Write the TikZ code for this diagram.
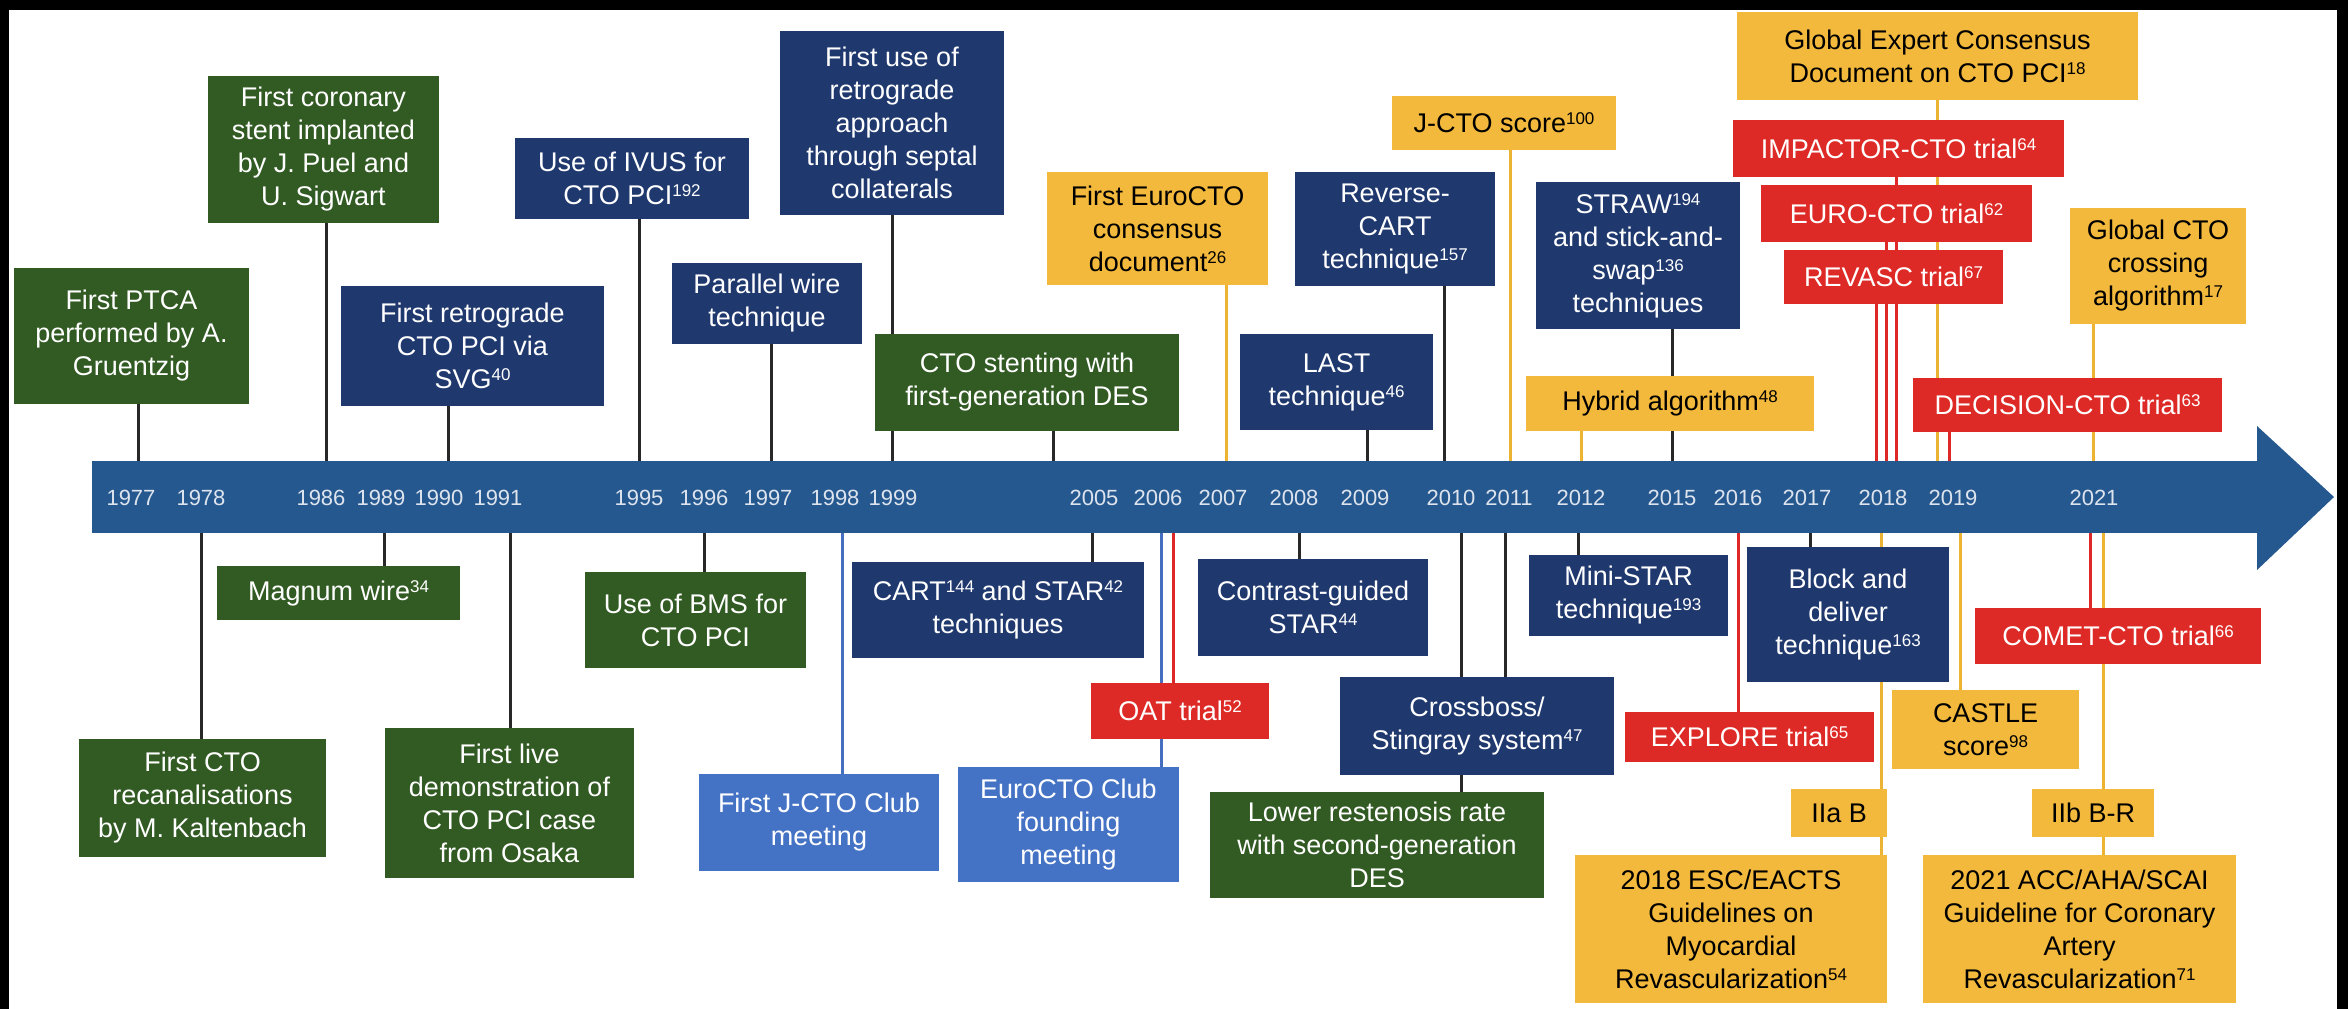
\documentclass[tikz,border=0pt]{standalone}
\usepackage{fontspec}
\setmainfont{Liberation Sans}
\usetikzlibrary{calc}
\definecolor{cgreen}{RGB}{50,90,35}
\definecolor{cnavy}{RGB}{31,56,110}
\definecolor{clight}{RGB}{68,114,196}
\definecolor{cyellow}{RGB}{242,185,60}
\definecolor{cred}{RGB}{222,42,38}
\definecolor{cbar}{RGB}{37,88,143}
\definecolor{cline}{RGB}{40,40,40}
\definecolor{cyline}{RGB}{236,180,50}
\definecolor{crline}{RGB}{222,40,40}
\definecolor{cbline}{RGB}{70,110,190}
\definecolor{cyear}{RGB}{222,228,238}
\pgfdeclarelayer{back}
\pgfdeclarelayer{bg}
\pgfsetlayers{back,bg,main}
\newcommand\sups[1]{\raisebox{0.3em}{\fontsize{17}{17}\selectfont #1}}
\newcommand\bx[7]{\node[#1, minimum width={#5-#3}, minimum height={#6-#4}] (#2) at ({(#3+#5)/2},{(#4+#6)/2}) {#7};}
\newcommand\connup[3]{\coordinate (k#2) at (#3,0); \draw[#1] (#2.south -| k#2) -- (bar.north -| k#2);}
\newcommand\conndn[3]{\coordinate (k#2) at (#3,0); \draw[#1] (bar.south -| k#2) -- (#2.north -| k#2);}
\begin{document}
\begin{tikzpicture}[x=1pt,y=-1pt,
  box/.style={rectangle, inner sep=0pt, outer sep=0pt, align=center, font=\fontsize{27}{33}\selectfont},
  gbox/.style={box, fill=cgreen, text=white},
  nbox/.style={box, fill=cnavy, text=white},
  lbox/.style={box, fill=clight, text=white},
  ybox/.style={box, fill=cyellow, text=black},
  rbox/.style={box, fill=cred, text=white},
  conn/.style={line width=3pt, draw=cline},
  yconn/.style={line width=3pt, draw=cyline},
  rconn/.style={line width=3pt, draw=crline},
  bconn/.style={line width=3pt, draw=cbline},
  yr/.style={font=\fontsize{22}{22}\selectfont, text=cyear, inner sep=0pt}
]
\useasboundingbox (0,0) rectangle (2348,1009);
\begin{pgfonlayer}{back}
\fill[white] (0,0) rectangle (2348,1009);
\fill[black] (0,0) rectangle (2348,10);
\fill[black] (0,0) rectangle (9,1009);
\fill[black] (2337,0) rectangle (2348,1009);
\end{pgfonlayer}

% timeline bar
\node[fill=cbar, minimum width=2166, minimum height=72, inner sep=0pt, outer sep=0pt] (bar) at (1175,497) {};
\fill[cbar] (2257,426) -- (2334,497) -- (2257,570) -- cycle;

% years
\foreach \yy/\xx in {1977/131,1978/201,1986/321,1989/381,1990/439,1991/498,1995/639,1996/704,1997/768,1998/835,1999/893,2005/1094,2006/1158,2007/1223,2008/1294,2009/1365,2010/1451,2011/1509,2012/1581,2015/1672,2016/1738,2017/1807,2018/1883,2019/1953,2021/2094}
  \node[yr] (y\yy) at (\xx,498) {\yy};

% top boxes
\bx{gbox}{ptca}{14}{268}{249}{404}{First PTCA\\performed by A.\\Gruentzig}
\bx{gbox}{stent}{208}{76}{439}{223}{First coronary\\stent implanted\\by J. Puel and\\U. Sigwart}
\bx{nbox}{svg}{341}{286}{604}{406}{First retrograde\\CTO PCI via\\SVG\sups{40}}
\bx{nbox}{ivus}{515}{138}{749}{219}{Use of IVUS for\\CTO PCI\sups{192}}
\bx{nbox}{parallel}{672}{263}{862}{344}{Parallel wire\\technique}
\bx{nbox}{firstretro}{780}{31}{1004}{215}{First use of\\retrograde\\approach\\through septal\\collaterals}
\bx{gbox}{desone}{875}{334}{1179}{431}{CTO stenting with\\first-generation DES}
\bx{ybox}{eurocons}{1047}{172}{1268}{285}{First EuroCTO\\consensus\\document\sups{26}}
\bx{nbox}{rcart}{1295}{172}{1495}{286}{Reverse-\\CART\\technique\sups{157}}
\bx{nbox}{last}{1240}{334}{1433}{430}{LAST\\technique\sups{46}}
\bx{ybox}{jcto}{1392}{96}{1616}{150}{J-CTO score\sups{100}}
\bx{nbox}{straw}{1536}{182}{1740}{329}{STRAW\sups{194}\\and stick-and-\\swap\sups{136}\\techniques}
\bx{ybox}{hybrid}{1526}{376}{1814}{431}{Hybrid algorithm\sups{48}}
\bx{ybox}{globexp}{1737}{12}{2138}{100}{Global Expert Consensus\\Document on CTO PCI\sups{18}}
\bx{rbox}{impactor}{1733}{120}{2064}{177}{IMPACTOR-CTO trial\sups{64}}
\bx{rbox}{eurocto}{1761}{185}{2032}{242}{EURO-CTO trial\sups{62}}
\bx{rbox}{revasc}{1784}{250}{2003}{304}{REVASC trial\sups{67}}
\bx{ybox}{globcto}{2070}{208}{2246}{324}{Global CTO\\crossing\\algorithm\sups{17}}
\bx{rbox}{decision}{1913}{378}{2222}{432}{DECISION-CTO trial\sups{63}}

% bottom boxes
\bx{gbox}{firstcto}{79}{739}{326}{857}{First CTO\\recanalisations\\by M. Kaltenbach}
\bx{gbox}{magnum}{217}{566}{460}{620}{Magnum wire\sups{34}}
\bx{gbox}{live}{385}{728}{634}{878}{First live\\demonstration of\\CTO PCI case\\from Osaka}
\bx{gbox}{bms}{585}{572}{806}{668}{Use of BMS for\\CTO PCI}
\bx{lbox}{jclub}{699}{774}{939}{871}{First J-CTO Club\\meeting}
\bx{nbox}{cart}{852}{562}{1144}{658}{CART\sups{144} and STAR\sups{42}\\techniques}
\bx{rbox}{oat}{1091}{683}{1269}{739}{OAT trial\sups{52}}
\bx{lbox}{euroclub}{958}{767}{1179}{882}{EuroCTO Club\\founding\\meeting}
\bx{nbox}{contrast}{1198}{559}{1428}{656}{Contrast-guided\\STAR\sups{44}}
\bx{nbox}{crossboss}{1340}{677}{1614}{775}{Crossboss/\\Stingray system\sups{47}}
\bx{gbox}{lower}{1210}{792}{1544}{898}{Lower restenosis rate\\with second-generation\\DES}
\bx{nbox}{ministar}{1529}{555}{1728}{636}{Mini-STAR\\technique\sups{193}}
\bx{rbox}{explore}{1625}{712}{1874}{762}{EXPLORE trial\sups{65}}
\bx{nbox}{block}{1747}{547}{1949}{682}{Block and\\deliver\\technique\sups{163}}
\bx{ybox}{castle}{1892}{690}{2079}{769}{CASTLE\\score\sups{98}}
\bx{rbox}{comet}{1975}{608}{2261}{664}{COMET-CTO trial\sups{66}}
\bx{ybox}{iia}{1791}{789}{1887}{837}{IIa B}
\bx{ybox}{iib}{2032}{789}{2154}{837}{IIb B-R}
\bx{ybox}{esc}{1575}{855}{1887}{1003}{2018 ESC/EACTS\\Guidelines on\\Myocardial\\Revascularization\sups{54}}
\bx{ybox}{acc}{1923}{855}{2236}{1003}{2021 ACC/AHA/SCAI\\Guideline for Coronary\\Artery\\Revascularization\sups{71}}

% connectors
\begin{pgfonlayer}{bg}
\connup{conn}{ptca}{138}
\connup{conn}{stent}{326}
\connup{conn}{svg}{448}
\connup{conn}{ivus}{639}
\connup{conn}{parallel}{771}
\connup{conn}{firstretro}{892}
\connup{conn}{desone}{1053}
\connup{yconn}{eurocons}{1226}
\connup{conn}{rcart}{1444}
\connup{conn}{last}{1367}
\connup{yconn}{jcto}{1510}
\connup{conn}{straw}{1672}
\connup{yconn}{hybrid}{1581}
\connup{yconn}{globexp}{1937}
\connup{rconn}{impactor}{1896}
\connup{rconn}{eurocto}{1886}
\connup{rconn}{revasc}{1876}
\connup{yconn}{globcto}{2093}
\connup{rconn}{decision}{1949}
\conndn{conn}{firstcto}{201}
\conndn{conn}{magnum}{384}
\conndn{conn}{live}{510}
\conndn{conn}{bms}{704}
\conndn{bconn}{jclub}{842}
\conndn{conn}{cart}{1092}
\conndn{rconn}{oat}{1173}
\conndn{bconn}{euroclub}{1161}
\conndn{conn}{contrast}{1299}
\conndn{conn}{crossboss}{1505}
\conndn{conn}{lower}{1461}
\conndn{conn}{ministar}{1578}
\conndn{rconn}{explore}{1738}
\conndn{conn}{block}{1810}
\conndn{yconn}{castle}{1960}
\conndn{rconn}{comet}{2090}
\conndn{yconn}{esc}{1881}
\conndn{yconn}{acc}{2103}
\end{pgfonlayer}
\end{tikzpicture}
\end{document}
